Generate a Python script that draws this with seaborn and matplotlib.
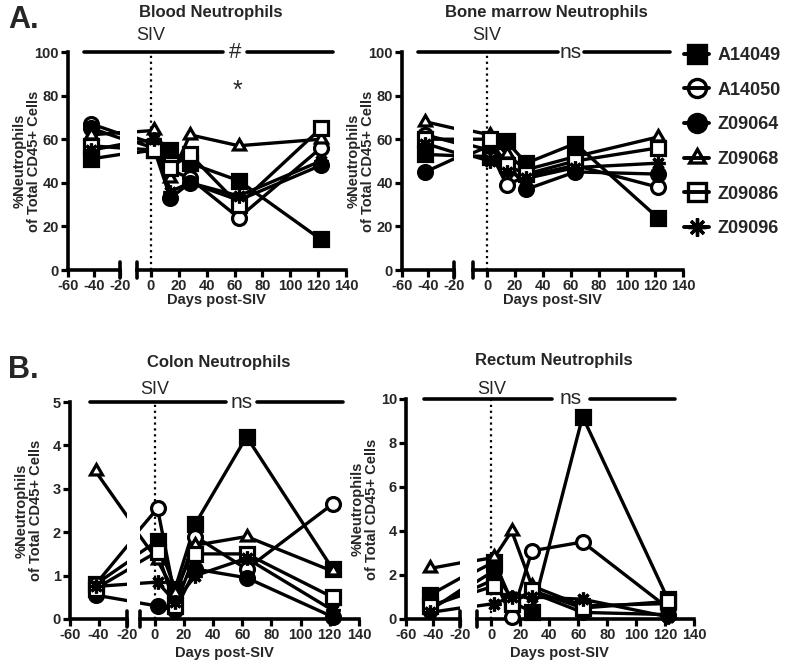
import numpy as np
import pandas as pd
import matplotlib
matplotlib.use("Agg")
import matplotlib.pyplot as plt
import seaborn as sns
from matplotlib.lines import Line2D

sns.set_theme(style="white")
plt.rcParams["font.family"] = ["Liberation Sans", "DejaVu Sans"]

# ---------------- data ----------------
animals = ["A14049", "A14050", "Z09064", "Z09068", "Z09086", "Z09096"]
days = [-42, 2, 14, 28, 63, 122]

blood = [
    [51, 55, 55, 49, 41, 14],
    [67, 58, 46, 42, 24, 56],
    [65, 56, 33, 40, 32, 48],
    [62, 64, 42, 62, 57, 60],
    [57, 55, 47, 53, 30, 65],
    [55, 60, 36, 40, 34, 50],
]
marrow = [
    [53, 52, 59, 49, 58, 24],
    [62, 55, 39, 43, 48, 38],
    [45, 57, 50, 37, 45, 44],
    [68, 62, 53, 46, 52, 61],
    [60, 60, 48, 44, 50, 56],
    [58, 50, 45, 42, 47, 49],
]
colon = [
    [0.80, 1.80, 0.70, 2.20, 4.20, 1.15],
    [0.80, 2.55, 0.50, 1.90, 1.15, 2.65],
    [0.55, 0.30, 0.20, 1.15, 0.95, 0.05],
    [3.40, 1.35, 0.60, 1.70, 1.90, 1.10],
    [0.70, 1.55, 0.30, 1.50, 1.50, 0.50],
    [0.75, 0.85, 0.40, 1.00, 1.40, 0.20],
]
rectum = [
    [1.1, 2.6, 0.8, 0.3, 9.2, 0.9],
    [0.5, 1.8, 0.1, 3.1, 3.5, 0.5],
    [0.4, 2.2, 0.9, 1.2, 0.3, 0.2],
    [2.3, 2.8, 4.0, 1.5, 0.6, 0.7],
    [0.6, 1.5, 0.7, 1.3, 0.5, 0.8],
    [0.3, 0.7, 1.0, 1.0, 0.9, 0.1],
]

titles = ["Blood Neutrophils", "Bone marrow Neutrophils",
          "Colon Neutrophils", "Rectum Neutrophils"]
sig_labels = ["#", "ns", "ns", "ns"]
ymax_list = [100, 100, 5, 10]
ystep_list = [20, 20, 1, 2]

# marker styles per animal
marker_list = ["s", "o", "o", (3, 0, 0), "s", (8, 2, 0)]
filled_list = [True, False, True, False, False, True]

# ---------------- layout (pixels) ----------------
W, H = 800, 671
fig = plt.figure(figsize=(8, 6.71), dpi=100)

# (left seg x0,x1, right seg x0,x1, top, bottom)
panels_px = [
    (68, 120, 137, 346, 52, 270),
    (402, 454, 473, 683, 52, 270),
    (70, 127, 140, 359, 402, 619),
    (406, 460, 477, 694, 399, 619),
]
bars = [(-48, 52, 69, 131), (-48, 51, 69, 131), (-46, 49, 70, 129), (-47, 42, 68, 127)]
siv_off = [17, 17, 12, 10]       # px above bar
title_y = [12, 12, 362, 361]     # px
xlabel_y = [300, 300, 653, 653]  # px

LW = 2.4
MS = 10
tick_fs = 10.5
lab_fs = 10.5


def px_axes(x0, x1, top, bottom):
    return fig.add_axes([x0 / W, 1 - bottom / H, (x1 - x0) / W, (bottom - top) / H])


def frame(values):
    rows = []
    for a, vals in zip(animals, values):
        for d, v in zip(days, vals):
            rows.append({"animal": a, "day": d, "value": v})
    return pd.DataFrame(rows)


for p, (vals, ttl) in enumerate(zip([blood, marrow, colon, rectum], titles)):
    lx0, lx1, rx0, rx1, top, bottom = panels_px[p]
    axL = px_axes(lx0, lx1, top, bottom)
    axR = px_axes(rx0, rx1, top, bottom)
    df = frame(vals)
    ymax = ymax_list[p]
    for ax, xl in [(axL, (-60, -20)), (axR, (-10, 140))]:
        for i, a in enumerate(animals):
            sub = df[df.animal == a]
            sns.lineplot(data=sub, x="day", y="value", ax=ax, color="black",
                         lw=LW, sort=False, estimator=None, legend=False)
            inr = sub[(sub.day >= xl[0]) & (sub.day <= xl[1])]
            if len(inr):
                mfc = "black" if filled_list[i] else "white"
                sns.lineplot(data=inr, x="day", y="value", ax=ax, color="black",
                             lw=0, marker=marker_list[i], markersize=MS,
                             markerfacecolor=mfc, markeredgecolor="black",
                             markeredgewidth=2.3, clip_on=False, estimator=None,
                             legend=False, zorder=5)
        ax.set_xlim(*xl)
        ax.set_ylim(0, ymax)
        ax.set_xlabel("")
        ax.set_ylabel("")
        for s in ["top", "right"]:
            ax.spines[s].set_visible(False)
        ax.spines["bottom"].set_linewidth(2.6)
        ax.spines["bottom"].set_color("black")
        ax.tick_params(axis="both", which="both", direction="out", length=5,
                       width=2.3, color="black", labelsize=tick_fs, pad=1.5,
                       bottom=True, left=True)
        ax.patch.set_alpha(0)
    # left axis
    axL.set_xticks([-60, -40, -20])
    axL.set_xticklabels(["-60", "-40", "-20"], fontweight="bold", fontsize=tick_fs)
    yt = np.arange(0, ymax + 0.001, ystep_list[p])
    axL.set_yticks(yt)
    axL.set_yticklabels([f"{int(v)}" for v in yt], fontweight="bold", fontsize=tick_fs)
    axL.spines["left"].set_linewidth(2.6)
    axL.spines["left"].set_color("black")
    # right axis
    axR.spines["left"].set_visible(False)
    axR.tick_params(axis="y", left=False, labelleft=False)
    axR.set_xticks(np.arange(0, 141, 20))
    axR.set_xticklabels([str(v) for v in range(0, 141, 20)], fontweight="bold",
                        fontsize=tick_fs)
    # break marks
    h = 8 / (bottom - top)
    axL.add_line(Line2D([1, 1], [-h, h], transform=axL.transAxes, color="black",
                        lw=2.6, clip_on=False))
    axR.add_line(Line2D([0, 0], [-h, h], transform=axR.transAxes, color="black",
                        lw=2.6, clip_on=False))
    # dotted SIV line
    axR.axvline(0, ls=":", color="black", lw=1.6, zorder=1)
    axR.annotate("SIV", (0, ymax), xytext=(0, siv_off[p] * 0.72),
                 textcoords="offset points", ha="center", va="center",
                 fontsize=13, annotation_clip=False)
    # significance bar
    x_start, g0, g1, x_end = bars[p]
    inv = fig.transFigure.inverted()
    pA = inv.transform(axL.transData.transform((x_start, ymax)))
    pB = inv.transform(axR.transData.transform((g0, ymax)))
    pC = inv.transform(axR.transData.transform((g1, ymax)))
    pD = inv.transform(axR.transData.transform((x_end, ymax)))
    fig.add_artist(Line2D([pA[0], pB[0]], [pA[1], pB[1]], color="black", lw=2.6))
    fig.add_artist(Line2D([pC[0], pD[0]], [pC[1], pD[1]], color="black", lw=2.6))
    axR.text((g0 + g1) / 2, ymax, sig_labels[p], ha="center", va="center",
             fontsize=16 if sig_labels[p] == "#" else 15, clip_on=False)
    if p == 0:
        axR.text(62, 82, "*", ha="center", va="center", fontsize=18, clip_on=False)
    # titles / labels
    cx = (lx0 + rx1) / 2 / W
    fig.text(cx + 0.005, 1 - title_y[p] / H, ttl, ha="center", va="center",
             fontsize=12, fontweight="bold")
    fig.text(cx + 0.012, 1 - xlabel_y[p] / H, "Days post-SIV", ha="center",
             va="center", fontsize=lab_fs, fontweight="bold")
    fig.text((lx0 - 41) / W, 1 - ((top + bottom) / 2) / H,
             "%Neutrophils\nof Total CD45+ Cells", ha="center", va="center",
             rotation=90, fontsize=lab_fs, fontweight="bold", linespacing=1.05)

fig.text(8 / W, 1 - 20 / H, "A.", fontsize=22, fontweight="bold", va="center")
fig.text(8 / W, 1 - 370 / H, "B.", fontsize=22, fontweight="bold", va="center")

# legend
handles = []
for i, a in enumerate(animals):
    handles.append(Line2D([0], [0], color="black", lw=LW + 0.4, marker=marker_list[i],
                          markersize=MS + 3,
                          markerfacecolor="black" if filled_list[i] else "none",
                          markeredgecolor="black", markeredgewidth=2.4))
leg = fig.legend(handles, animals, loc="upper left",
                 bbox_to_anchor=(684 / W, 1 - 47 / H), frameon=False,
                 fontsize=13, labelspacing=0.98, handlelength=1.4,
                 handletextpad=0.45, borderaxespad=0, borderpad=0)
for t in leg.get_texts():
    t.set_fontweight("bold")

fig.savefig("out.png", dpi=100)
